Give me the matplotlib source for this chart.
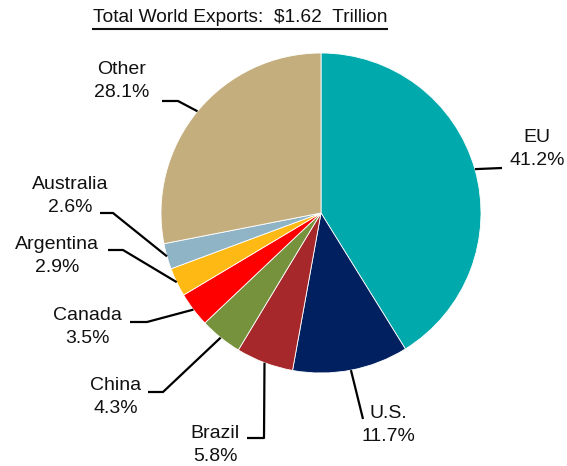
import numpy as np
import matplotlib.pyplot as plt
from matplotlib.lines import Line2D

plt.rcParams['font.family'] = ['Liberation Sans', 'DejaVu Sans']

# export shares (%)
regions = ["EU", "U.S.", "Brazil", "China", "Canada", "Argentina", "Australia", "Other"]
shares = [41.2, 11.7, 5.8, 4.3, 3.5, 2.9, 2.6, 28.1]
colors = ["#00A9AC", "#002060", "#A6282A", "#76923C", "#FF0000",
          "#FFB914", "#8EB4C5", "#C4AE7E"]
title = "Total World Exports:  $1.62  Trillion"

# label layout in pixel space: (elbow points after the pie-edge anchor, label center)
leaders = {
    "EU":        ([(502, 168)], (537, 149)),
    "U.S.":      ([(363, 419)], (388, 425)),
    "Brazil":    ([(264, 438), (247, 438)], (215, 445)),
    "China":     ([(163, 392), (148, 392)], (116, 397)),
    "Canada":    ([(147, 322), (130, 322)], (87, 327)),
    "Argentina": ([(123, 250), (108, 250)], (57, 256)),
    "Australia": ([(113, 213), (100, 213)], (70, 196)),
    "Other":     ([(178, 101), (162, 101)], (122, 81)),
}

W, H = 567, 466
fig = plt.figure(figsize=(W / 100, H / 100), dpi=100)
ax = fig.add_axes([0, 0, 1, 1])
ax.set_xlim(0, W)
ax.set_ylim(H, 0)  # y grows downward
ax.set_aspect('equal')
ax.axis('off')

cx, cy, r = 321, 213, 160
# with the y axis flipped, start at -90 going counterclockwise = top, clockwise on screen
wedges, _ = ax.pie(shares, colors=colors, center=(cx, cy), radius=r,
                   startangle=-90, counterclock=True,
                   wedgeprops=dict(edgecolor='white', linewidth=0.6))
ax.set_xlim(0, W)
ax.set_ylim(H, 0)

for w, name, val in zip(wedges, regions, shares):
    mid = np.deg2rad((w.theta1 + w.theta2) / 2)
    ax_pt = (cx + r * np.cos(mid), cy + r * np.sin(mid))
    pts, (tx, ty) = leaders[name]
    xs = [ax_pt[0]] + [p[0] for p in pts]
    ys = [ax_pt[1]] + [p[1] for p in pts]
    ax.add_line(Line2D(xs, ys, color='black', lw=1.6, solid_capstyle='butt'))
    ax.text(tx, ty, f"{name}\n{val:.1f}%", ha='center', va='center',
            fontsize=14, linespacing=1.4, color='#111111')

t = ax.text(240, 18, title, ha='center', va='center', fontsize=13.8, color='#111111')
fig.canvas.draw()
bb = t.get_window_extent().transformed(ax.transData.inverted())
ax.add_line(Line2D([bb.x0, bb.x1], [29, 29], color='#111111', lw=1.5))

fig.savefig("out.png", dpi=100)
